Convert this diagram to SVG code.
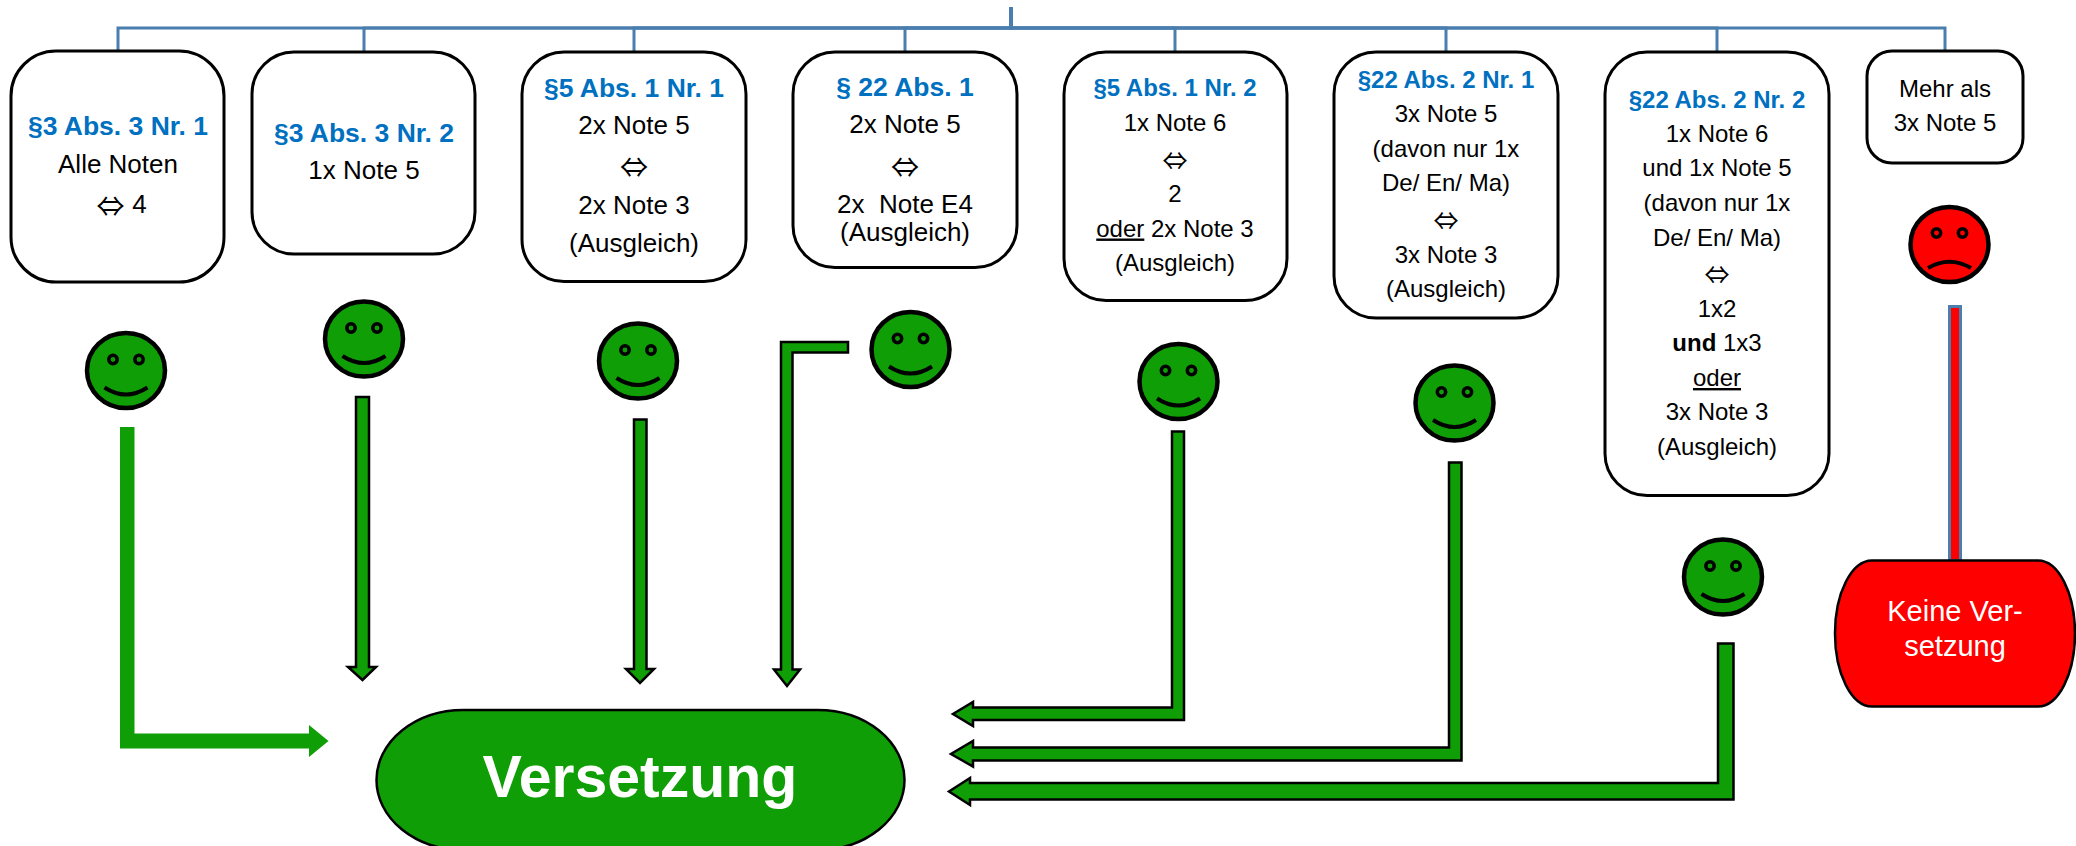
<svg xmlns="http://www.w3.org/2000/svg" xmlns:xlink="http://www.w3.org/1999/xlink" width="2076" height="846" viewBox="0 0 2076 846">
<style>
text{font-family:"Liberation Sans",Arial,sans-serif;text-anchor:middle;font-size:24px;fill:#000}
.t26{font-size:26px}
.h{font-weight:bold;fill:#0070C0;font-size:24px}
.h26{font-weight:bold;fill:#0070C0;font-size:26.5px}
text.sym{font-family:"Noto Sans CJK JP",sans-serif;font-size:25px}
text.sym36{font-family:"Noto Sans CJK JP",sans-serif;font-size:28px}
.box{fill:#fff;stroke:#000;stroke-width:3}
.conn{fill:none;stroke:#4A7EAF;stroke-width:3}
.arr{fill:#0F9E05;stroke:#000;stroke-width:2.5}
.face{stroke:#000;stroke-width:4.5}
.g{fill:#0F9E05}
.r{fill:#f00}
.eye{stroke:#000;stroke-width:3.5}
.mouth{fill:none;stroke:#000;stroke-width:4}
.u{text-decoration:underline}
</style>
<defs>
<g id="happy">
<ellipse class="face g" rx="39" ry="37.5"/>
<ellipse class="eye g" cx="-13" cy="-11" rx="4.2" ry="4.2"/>
<ellipse class="eye g" cx="13" cy="-11" rx="4.2" ry="4.2"/>
<path class="mouth" d="M-21.5,17 Q0,31 21.5,17"/>
</g>
<g id="sad">
<ellipse class="face r" rx="39" ry="37.5"/>
<ellipse class="eye r" cx="-13" cy="-11.5" rx="4.2" ry="4.2"/>
<ellipse class="eye r" cx="13" cy="-11.5" rx="4.2" ry="4.2"/>
<path class="mouth" d="M-21.5,23.5 Q0,11 21.5,23.5"/>
</g>
</defs>
<rect width="2076" height="846" fill="#fff"/>
<g id="connectors">
<path class="conn" d="M1011,7 V28 H118 V51"/>
<path class="conn" d="M1011,7 V28 H364 V52"/>
<path class="conn" d="M1011,7 V28 H634 V52"/>
<path class="conn" d="M1011,7 V28 H905 V52"/>
<path class="conn" d="M1011,7 V28 H1175 V52"/>
<path class="conn" d="M1011,7 V28 H1446 V52"/>
<path class="conn" d="M1011,7 V28 H1717 V52"/>
<path class="conn" d="M1011,7 V28 H1945 V51"/>
<polygon fill="#0F9E05" points="120,427 134.5,427 134.5,733.5 309,733.5 309,725 328.5,741 309,757 309,748.5 120,748.5"/>
<polygon class="arr" points="356,397 369,397 369,667 376,667 362.5,680 348,667 356,667"/>
<polygon class="arr" points="634,419.5 646.5,419.5 646.5,669 654,669 640,683 626,669 634,669"/>
<polygon class="arr" points="781,342 848,342 848,352.5 792.5,352.5 792.5,669.5 800,669.5 787,686 774,669.5 781,669.5"/>
<polygon class="arr" points="1184,431.5 1172,431.5 1172,707.5 973,707.5 973,702 953,714 973,726 973,720 1184,720"/>
<polygon class="arr" points="1461.5,462.5 1449,462.5 1449,747.5 973,747.5 973,741 951,754 973,766.5 973,760.5 1461.5,760.5"/>
<polygon class="arr" points="1733.5,643.5 1718,643.5 1718,783 970,783 970,778 949,791.5 970,805 970,799.5 1733.5,799.5"/>
<rect x="1949.5" y="306.5" width="11" height="254" fill="#f00" stroke="#4A7EAF" stroke-width="3"/>
</g>
<g id="n1"><rect class="box" x="11" y="51" width="213" height="231" rx="45" ry="45"/>
<text class="h26" x="118" y="135">§3 Abs. 3 Nr. 1</text><text class="t26" x="118" y="173">Alle Noten</text><text class="sym36" x="110.5" y="217">⇔</text><text class="t26" x="139.5" y="213">4</text></g>
<g id="n2"><rect class="box" x="252" y="52" width="223" height="202" rx="42" ry="42"/>
<text class="h26" x="364" y="141.5">§3 Abs. 3 Nr. 2</text><text class="t26" x="364" y="179">1x Note 5</text></g>
<g id="n3"><rect class="box" x="522" y="52" width="224" height="229.5" rx="42" ry="42"/>
<text class="h26" x="634" y="96.5">§5 Abs. 1 Nr. 1</text><text class="t26" x="634" y="134">2x Note 5</text><text class="sym36" x="634" y="178">⇔</text><text class="t26" x="634" y="214">2x Note 3</text><text class="t26" x="634" y="252">(Ausgleich)</text></g>
<g id="n4"><rect class="box" x="793" y="52" width="224" height="215.5" rx="42" ry="42"/>
<text class="h26" x="905" y="95.5">§ 22 Abs. 1</text><text class="t26" x="905" y="133">2x Note 5</text><text class="sym36" x="905" y="177.5">⇔</text><text class="t26" x="905" y="212.5" xml:space="preserve">2x  Note E4</text><text class="t26" x="905" y="240.5">(Ausgleich)</text></g>
<g id="n5"><rect class="box" x="1064" y="52" width="223" height="248.5" rx="42" ry="42"/>
<text class="h" x="1175" y="95.5">§5 Abs. 1 Nr. 2</text><text x="1175" y="131">1x Note 6</text><text class="sym" x="1175" y="170">⇔</text><text x="1175" y="201.5">2</text><text x="1175" y="236.5"><tspan class="u">oder</tspan> 2x Note 3</text><text x="1175" y="270.5">(Ausgleich)</text></g>
<g id="n6"><rect class="box" x="1334" y="52" width="224" height="266" rx="42" ry="42"/>
<text class="h" x="1446" y="88">§22 Abs. 2 Nr. 1</text><text x="1446" y="122">3x Note 5</text><text x="1446" y="157">(davon nur 1x</text><text x="1446" y="191">De/ En/ Ma)</text><text class="sym" x="1446" y="230">⇔</text><text x="1446" y="263">3x Note 3</text><text x="1446" y="296.5">(Ausgleich)</text></g>
<g id="n7"><rect class="box" x="1605" y="52" width="224" height="443.5" rx="42" ry="42"/>
<text class="h" x="1717" y="107.5">§22 Abs. 2 Nr. 2</text><text x="1717" y="141.5">1x Note 6</text><text x="1717" y="175.5">und 1x Note 5</text><text x="1717" y="210.5">(davon nur 1x</text><text x="1717" y="245.5">De/ En/ Ma)</text><text class="sym" x="1717" y="284">⇔</text><text x="1717" y="316.5">1x2</text><text x="1717" y="351"><tspan font-weight="bold">und</tspan> 1x3</text><text class="u" x="1717" y="386">oder</text><text x="1717" y="420">3x Note 3</text><text x="1717" y="455">(Ausgleich)</text></g>
<g id="n8"><rect class="box" x="1867" y="51" width="156" height="112" rx="25" ry="25"/>
<text x="1945" y="96.5">Mehr als</text><text x="1945" y="130.5">3x Note 5</text></g>
<use id="s1" href="#happy" x="126" y="370.5"/>
<use id="s2" href="#happy" x="364" y="339"/>
<use id="s3" href="#happy" x="638" y="361"/>
<use id="s4" href="#happy" x="910.5" y="349.5"/>
<use id="s5" href="#happy" x="1178.5" y="381.5"/>
<use id="s6" href="#happy" x="1454.5" y="403"/>
<use id="s7" href="#happy" x="1723" y="577"/>
<use id="s8" href="#sad" x="1949.5" y="244.5"/>
<g id="versetzung"><rect x="376.5" y="710" width="528" height="140" rx="87" ry="70" fill="#0F9E05" stroke="#000" stroke-width="2.5"/>
<text x="640" y="796.5" style="font-size:59px;font-weight:bold;fill:#fff">Versetzung</text></g>
<g id="keine"><rect x="1835" y="560.5" width="240" height="146" rx="37" ry="73" fill="#f00" stroke="#000" stroke-width="2.5"/>
<text x="1955" y="620.5" style="font-size:29px;fill:#fff">Keine Ver-</text><text x="1955" y="656" style="font-size:29px;fill:#fff">setzung</text></g>
</svg>
